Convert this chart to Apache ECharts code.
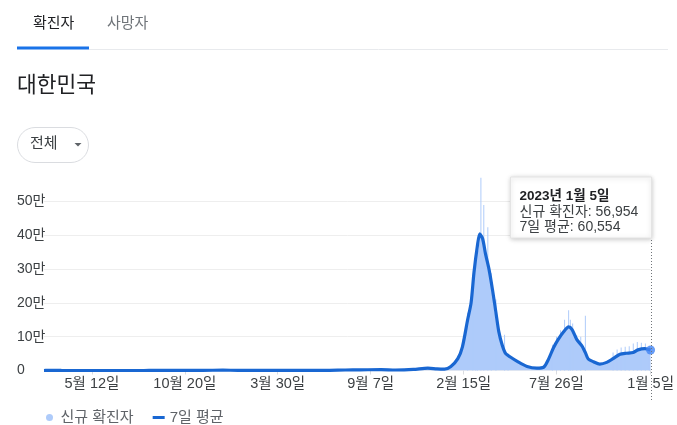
<!DOCTYPE html>
<html><head><meta charset="utf-8">
<script src="https://cdn.jsdelivr.net/npm/echarts@6/dist/echarts.min.js"></script>
<style>html,body{margin:0;padding:0;background:#fff}#c{width:677px;height:425px}</style>
</head><body><div id="c"></div>
<script>
// ---- DATA ----
const avgDates = ['2020-02-19','2020-02-24','2020-03-01','2020-03-08','2020-03-20','2020-04-10','2020-05-10','2020-06-10','2020-07-10','2020-08-10','2020-08-28','2020-09-20','2020-10-20','2020-11-20','2020-12-25','2021-01-20','2021-02-20','2021-03-20','2021-04-20','2021-05-20','2021-06-20','2021-07-25','2021-08-20','2021-09-25','2021-10-20','2021-11-20','2021-12-15','2021-12-31','2022-01-13','2022-01-24','2022-02-05','2022-02-13','2022-02-22','2022-02-28','2022-03-05','2022-03-11','2022-03-15','2022-03-20','2022-03-25','2022-03-31','2022-04-06','2022-04-12','2022-04-17','2022-04-23','2022-04-29','2022-05-07','2022-05-19','2022-06-05','2022-06-22','2022-07-04','2022-07-12','2022-07-21','2022-07-29','2022-08-07','2022-08-16','2022-08-22','2022-08-30','2022-09-08','2022-09-14','2022-09-19','2022-09-28','2022-10-09','2022-10-21','2022-11-01','2022-11-13','2022-11-24','2022-12-06','2022-12-14','2022-12-26','2023-01-05'];
const avgValues = [20,300,560,380,110,40,15,45,45,30,330,100,80,300,1030,450,450,440,650,580,450,1500,1800,2700,1500,3100,7000,4700,4000,12000,35000,70000,150000,200000,290000,370000,404000,390000,345000,300000,240000,172000,115000,75000,50000,40000,27000,12000,7000,10000,33000,68000,92000,114000,129000,121000,92000,73000,53000,34000,26000,19000,24000,35000,48000,51000,53000,61000,65000,60554];

const dailyDates = ['2020-02-19','2020-02-26','2020-03-01','2020-03-06','2020-03-15','2020-04-10','2020-05-10','2020-06-10','2020-07-10','2020-08-10','2020-08-27','2020-09-20','2020-10-20','2020-11-20','2020-12-25','2021-01-20','2021-02-20','2021-03-20','2021-04-20','2021-05-20','2021-06-20','2021-07-25','2021-08-20','2021-09-25','2021-10-20','2021-11-20','2021-12-15','2021-12-31','2022-01-13','2022-01-24','2022-02-01','2022-02-05','2022-02-10','2022-02-13','2022-02-18','2022-02-24','2022-02-28','2022-03-04','2022-03-09','2022-03-13','2022-03-16','2022-03-20','2022-03-24','2022-03-28','2022-04-01','2022-04-05','2022-04-09','2022-04-13','2022-04-17','2022-04-21','2022-04-25','2022-04-30','2022-05-07','2022-05-19','2022-06-05','2022-06-22','2022-07-04','2022-07-12','2022-07-21','2022-07-29','2022-08-07','2022-08-14','2022-08-22','2022-08-30','2022-09-08','2022-09-14','2022-09-19','2022-09-28','2022-10-09','2022-10-21','2022-11-01','2022-11-13','2022-11-24','2022-12-06','2022-12-14','2022-12-26','2023-01-05'];
const dailyValues = [30,280,700,480,90,30,30,45,40,30,440,80,90,380,1200,400,450,450,700,600,400,1500,2000,3200,1500,3200,7800,4400,4500,13000,20000,38000,55000,90000,110000,170000,210000,265000,330000,360000,400000,380000,350000,310000,280000,250000,180000,150000,110000,90000,60000,50000,40000,25000,10000,8000,12000,38000,70000,95000,118000,130000,118000,90000,70000,50000,32000,27000,18000,28000,40000,52000,54000,58000,64000,66000,56954];

const spikeDates = ['2022-02-22','2022-03-03','2022-03-08','2022-03-11','2022-03-17','2022-03-22','2022-03-29','2022-04-04','2022-04-12','2022-04-27','2022-05-03','2022-07-19','2022-07-26','2022-08-02','2022-08-09','2022-08-16','2022-08-19','2022-08-23','2022-08-30','2022-09-06','2022-09-14','2022-11-01','2022-11-08','2022-11-15','2022-11-22','2022-11-29','2022-12-06','2022-12-13','2022-12-20','2022-12-27','2023-01-03'];
const spikeValues = [171000,266000,342000,371000,570000,490000,424000,288000,210000,106000,50000,76000,100000,119000,150000,178000,150000,139000,104000,100000,162000,53000,62000,68000,70000,72000,80000,84000,82000,80000,72000];

const tickDates = ['2020-05-12','2020-10-20','2021-03-30','2021-09-07','2022-02-15','2022-07-26','2023-01-05'];
const tickLabels = ['5월 12일','10월 20일','3월 30일','9월 7일','2월 15일','7월 26일','1월 5일'];
const yTicks = [0,100000,200000,300000,400000,500000];
const yTickLabels = ['0','10만','20만','30만','40만','50만'];

const seriesNames = ['신규 확진자','7일 평균'];

// ---- CHART ----
const FONT = "'Liberation Sans','Noto Sans CJK KR',sans-serif";
function t(s){const p=s.split('-').map(Number);return Date.UTC(p[0],p[1]-1,p[2]);}
const tickMap = {}; tickDates.forEach((d,i)=>{tickMap[t(d)] = tickLabels[i];});
const yMap = {}; yTicks.forEach((v,i)=>{yMap[v]=yTickLabels[i];});

const zip = (ds, vs) => ds.map((d,i)=>[t(d), vs[i]]);
const lastDate = avgDates[avgDates.length-1];
const lastAvg = avgValues[avgValues.length-1];
const lastDaily = dailyValues[dailyValues.length-1];

const chart = echarts.init(document.getElementById('c'), null, {renderer:'canvas'});
const option = {
  animation:false,
  textStyle:{fontFamily:FONT},
  grid:{left:44,right:23,top:177,bottom:54.5},
  legend:{
    left:41, top:405, itemWidth:12, itemHeight:7, itemGap:19,
    textStyle:{fontSize:15,color:'#5f6368',fontFamily:FONT},
    data:[{name:seriesNames[0],icon:'circle'},{name:seriesNames[1],icon:'path://M0,0H12V3H0Z'}],
    selectedMode:false
  },
  xAxis:{
    type:'value', min:t(dailyDates[0]), max:t(lastDate), scale:true,
    axisLine:{show:false},
    axisTick:{show:true,length:4,lineStyle:{color:'#dadce0'},customValues:tickDates.map(t)},
    axisLabel:{customValues:tickDates.map(t),margin:6,fontSize:14.5,color:'#3c4043',fontFamily:FONT,
      formatter:(v)=>tickMap[v]||''},
    splitLine:{show:false}
  },
  yAxis:{
    type:'value', min:0, max:572500, interval:100000,
    axisLine:{show:false}, axisTick:{show:false},
    axisLabel:{align:'left',margin:27,fontSize:14,color:'#3c4043',fontFamily:FONT,showMaxLabel:false,
      formatter:(v)=> (v in yMap)? yMap[v] : ''},
    splitLine:{show:true,showMaxLine:false,lineStyle:{color:'#eeeeee',width:1}}
  },
  series:[
    {name:seriesNames[0],type:'line',data:zip(dailyDates,dailyValues),showSymbol:false,
     lineStyle:{width:0},itemStyle:{color:'#aecbfa'},areaStyle:{color:'#aecbfa',opacity:1},z:1},
    {name:seriesNames[0],type:'bar',data:zip(spikeDates,spikeValues),barWidth:1,
     itemStyle:{color:'#aecbfa'},z:1},
    {name:seriesNames[1],type:'line',data:zip(avgDates,avgValues),showSymbol:false,smooth:0.25,
     lineStyle:{width:3.2,color:'#1967d2'},itemStyle:{color:'#1967d2'},z:3},
    {name:'last',type:'scatter',data:[[t(lastDate),lastAvg]],symbolSize:9,
     itemStyle:{color:'#4285f4'},z:4}
  ]
};
chart.setOption(option);

const lx = Math.round(chart.convertToPixel({xAxisIndex:0}, t(lastDate))) + 0.5;
const ld = new Date(t(lastDate));
const fmt = (n)=>n.toLocaleString('en-US');
const tipW = 141, tipH = 61, tipX = lx - tipW, tipY = 177;

chart.setOption({graphic:[
  {type:'text',left:33,top:16,style:{text:'확진자',font:'15px '+FONT,fill:'#202124'}},
  {type:'text',left:107,top:16,style:{text:'사망자',font:'15px '+FONT,fill:'#70757a'}},
  {type:'line',shape:{x1:89,y1:49.5,x2:668,y2:49.5},style:{stroke:'#e8eaed',lineWidth:1}},
  {type:'rect',shape:{x:17,y:46.5,width:72,height:3},style:{fill:'#1a73e8'}},
  {type:'text',left:17,top:75,style:{text:'대한민국',font:'21.5px '+FONT,fill:'#202124'}},
  {type:'rect',shape:{x:17.5,y:127.5,width:71,height:35,r:17.5},style:{fill:'#fff',stroke:'#dadce0',lineWidth:1}},
  {type:'text',left:30,top:136,style:{text:'전체',font:'15px '+FONT,fill:'#3c4043'}},
  {type:'polygon',shape:{points:[[74.5,143],[81.5,143],[78,146.5]]},style:{fill:'#5f6368'}},
  {type:'line',shape:{x1:lx,y1:177,x2:lx,y2:402},style:{stroke:'#70757a',lineWidth:1,lineDash:[1,2]},z:5},
  {type:'rect',shape:{x:tipX,y:tipY,width:tipW,height:tipH},
   style:{fill:'#ffffff',stroke:'#e4e4e4',lineWidth:1,shadowBlur:5,shadowColor:'rgba(0,0,0,0.22)',shadowOffsetY:1},z:10},
  {type:'text',x:tipX+9,y:tipY+19,z:11,style:{text:ld.getUTCFullYear()+'년 '+(ld.getUTCMonth()+1)+'월 '+ld.getUTCDate()+'일',
     font:'bold 13.5px '+FONT,fill:'#202124',verticalAlign:'middle'}},
  {type:'text',x:tipX+9,y:tipY+35,z:11,style:{text:seriesNames[0]+': '+fmt(lastDaily),
     font:'14px '+FONT,fill:'#3c4043',verticalAlign:'middle'}},
  {type:'text',x:tipX+9,y:tipY+50,z:11,style:{text:seriesNames[1]+': '+fmt(lastAvg),
     font:'14px '+FONT,fill:'#3c4043',verticalAlign:'middle'}}
]});
</script>
</body></html>
